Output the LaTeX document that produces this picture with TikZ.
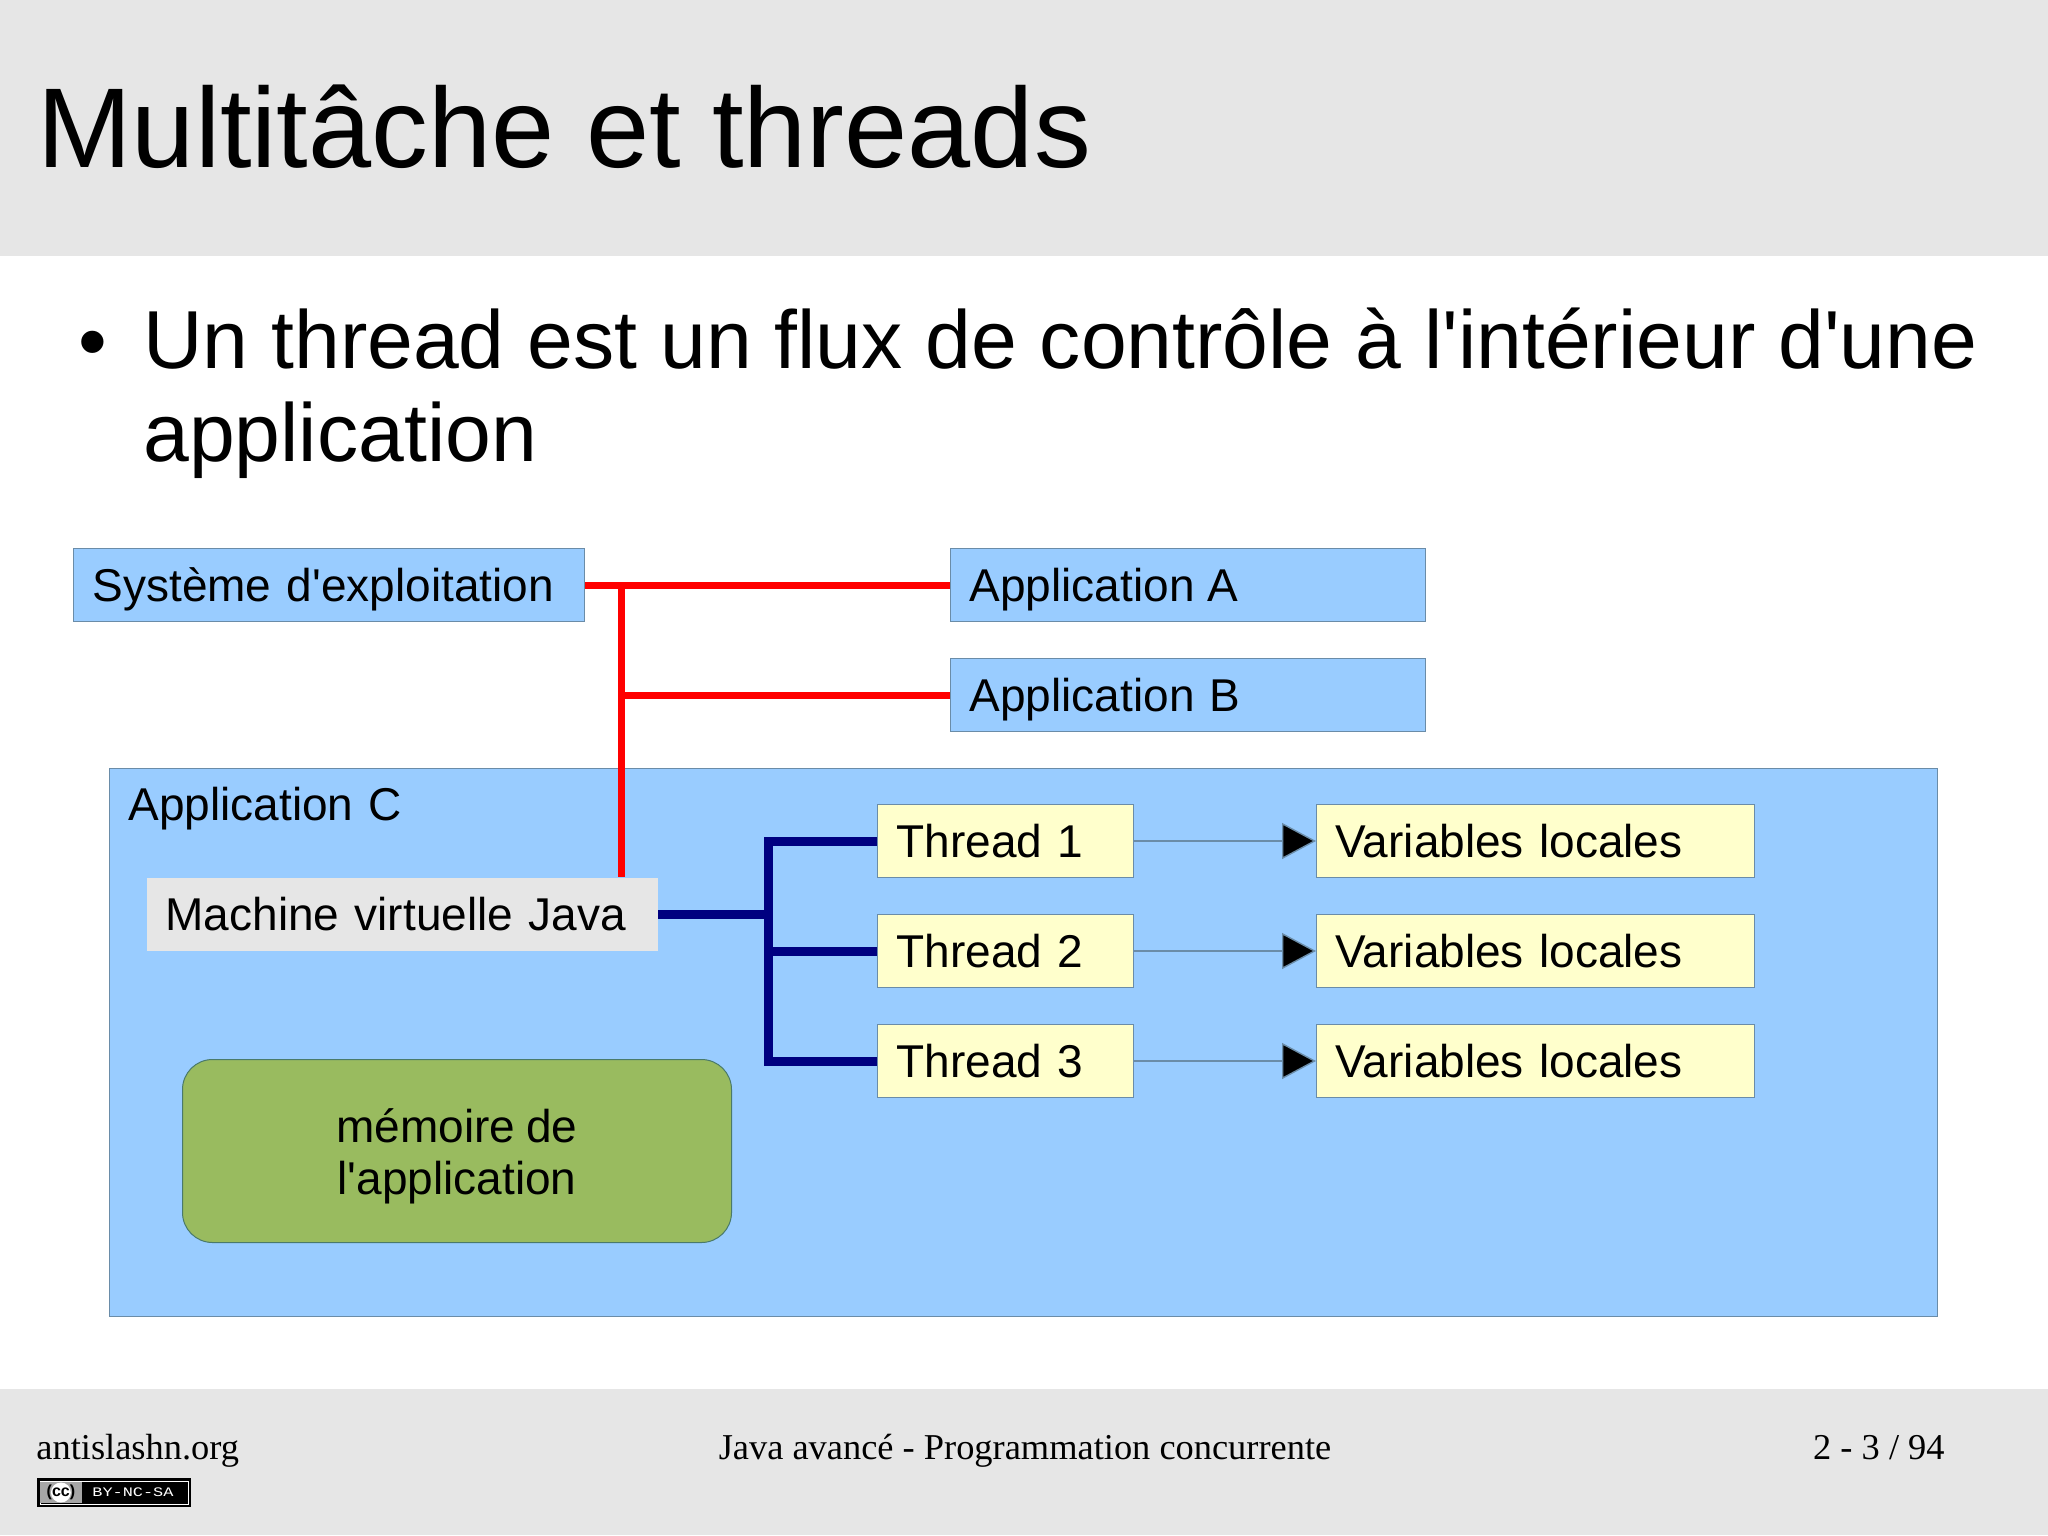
\documentclass[tikz,border=0pt]{standalone}
\usepackage{fontspec}
\setmainfont{Liberation Sans}
\newfontfamily\diagfont[WordSpace=0.85, Ligatures=TeXOff]{Liberation Sans}
\newfontfamily\footfont{Liberation Serif}
\newfontfamily\badgefont[FakeStretch=1.3]{Liberation Mono}
\newcommand{\straightapos}{{\diagfont'}}
\usepackage{xcolor}
\usetikzlibrary{arrows.meta, positioning, calc}
\definecolor{bandgrey}{HTML}{E6E6E6}
\definecolor{skyblue}{HTML}{99CCFF}
\definecolor{paleyellow}{HTML}{FFFFCC}
\definecolor{leafgreen}{HTML}{99BB5F}
\definecolor{edgeblue}{HTML}{6A8CA8}
\definecolor{edgegreen}{HTML}{4A7A6A}
\definecolor{navyline}{HTML}{000080}

\begin{document}
\begin{tikzpicture}[x=0.5pt, y=-0.5pt,
    band/.style={fill=bandgrey, draw=none, minimum width=1024pt, inner sep=0pt},
    boxtext/.style={font=\diagfont\fontsize{23}{26}\selectfont},
    box/.style={boxtext, draw=edgeblue, line width=0.6pt, minimum height=36.5pt, inner xsep=9.5pt, inner ysep=0pt, align=left, text height=19pt, text depth=2.3pt},
    label/.style={inner sep=0pt, anchor=base west},
    foot/.style={inner sep=0pt, anchor=base, font=\footfont\fontsize{18.2}{20}\selectfont},
    redline/.style={red, line width=3.5pt},
    blueline/.style={navyline, line width=4.5pt},
    arrow/.style={-{Triangle[length=17pt, width=18pt, fill=black]}, edgeblue, line width=0.7pt}
]
    \useasboundingbox (0,0) rectangle (2048,1535);
    \fill[white] (0,0) rectangle (2048,1535);

    % bands
    \node[band, minimum height=128pt, anchor=north west] at (0,0) (titleband) {};
    \node[band, minimum height=73pt, anchor=south west] at (0,1535) (footband) {};

    % title and text
    \node[label, font=\fontsize{56.75}{60}\selectfont] at (37,168) (title) {Multitâche et threads};
    \node[label, font=\fontsize{41}{46.5}\selectfont] at (78,370) (bullet) {•};
    \node[inner sep=0pt, anchor=north west, align=left, font=\fontsize{41.15}{46.5}\selectfont] at (143,307) (para) {Un thread est un flux de contrôle à l\straightapos intérieur d\straightapos une\\application};

    % application C
    \node[box, fill=skyblue, minimum width=914pt, minimum height=274pt, anchor=north west] at (109,768) (appC) {};
    \node[label, boxtext] at (128,820) (appClabel) {Application\hspace{2pt} C};

    % top row
    \node[box, fill=skyblue, text width=236.5pt, anchor=west] at (73,585) (sys) {Système d'exploitation};
    \node[box, fill=skyblue, text width=218.5pt, anchor=west] at (950,585) (appA) {Application\hspace{-1pt} A};
    \node[box, fill=skyblue, text width=218.5pt, anchor=west] at (950,695) (appB) {Application B};

    % inside application C
    \node[box, draw=none, fill=bandgrey, text width=236.5pt, anchor=west] at (146,914) (jvm) {Machine virtuelle Java};
    \node[draw=edgegreen, line width=0.5pt, fill=leafgreen, rounded corners=15pt, minimum width=274.5pt, minimum height=91.5pt] at (457,1151) (mem) {};
    \node[boxtext, align=center, inner sep=0pt] at (457,1156) (memtext) {mémoire de\\l'application};

    \node[box, fill=paleyellow, text width=109pt, anchor=west] at (877,841) (th1) {Thread 1};
    \node[box, fill=paleyellow, text width=109pt, anchor=west] at (877,951) (th2) {Thread 2};
    \node[box, fill=paleyellow, text width=109pt, anchor=west] at (877,1061) (th3) {Thread 3};
    \node[box, fill=paleyellow, text width=200pt, anchor=west] at (1316,841) (var1) {Variables locales};
    \node[box, fill=paleyellow, text width=200pt, anchor=west] at (1316,951) (var2) {Variables locales};
    \node[box, fill=paleyellow, text width=200pt, anchor=west] at (1316,1061) (var3) {Variables locales};

    % red links
    \coordinate (redbus) at (621,585);
    \draw[redline] (sys.east) -- (appA.west);
    \draw[redline] (redbus) -- (redbus |- jvm.north);
    \draw[redline] (redbus |- appB.west) -- (appB.west);

    % blue links
    \coordinate (bluebus) at (768,914);
    \draw[blueline] (jvm.east) -- (bluebus);
    \draw[blueline, line cap=rect] (bluebus |- th1.west) -- (bluebus |- th3.west);
    \draw[blueline] (bluebus |- th1.west) -- (th1.west);
    \draw[blueline] (bluebus |- th2.west) -- (th2.west);
    \draw[blueline] (bluebus |- th3.west) -- (th3.west);

    % thread arrows
    \draw[arrow] (th1.east) -- (var1.west);
    \draw[arrow] (th2.east) -- (var2.west);
    \draw[arrow] (th3.east) -- (var3.west);

    % footer
    \node[foot, anchor=base west] at (36,1459) (site) {antislashn.org};
    \node[foot] at (1025,1459) (course) {Java avancé - Programmation concurrente};
    \node[foot, anchor=base east] at (1945,1459) (page) {2 - 3 / 94};

    % licence badge
    \node[draw=black, line width=1pt, fill=black, minimum width=76pt, minimum height=13.5pt, inner sep=0pt, anchor=north west] at (37,1478) (badge) {};
    \node[fill=black, draw=white, line width=0.5pt, minimum width=74pt, minimum height=11.5pt, inner sep=0pt] at (badge.center) (badgein) {};
    \node[fill=black!35, minimum width=21pt, minimum height=10.5pt, inner sep=0pt, anchor=west] at (badgein.west) (badgecc) {};
    \node[fill=white, circle, minimum size=10pt, inner sep=0pt] at (badgecc.center) (badgedisc) {};
    \node[font=\bfseries\fontsize{8}{8}\selectfont, inner sep=0pt] at (badgedisc.center) (cctext) {(cc)};
    \node[white, font=\badgefont\fontsize{6.5}{7}\selectfont, inner sep=0pt, anchor=west] at (92,1492) (badgetext) {BY-NC-SA};
\end{tikzpicture}
\end{document}
